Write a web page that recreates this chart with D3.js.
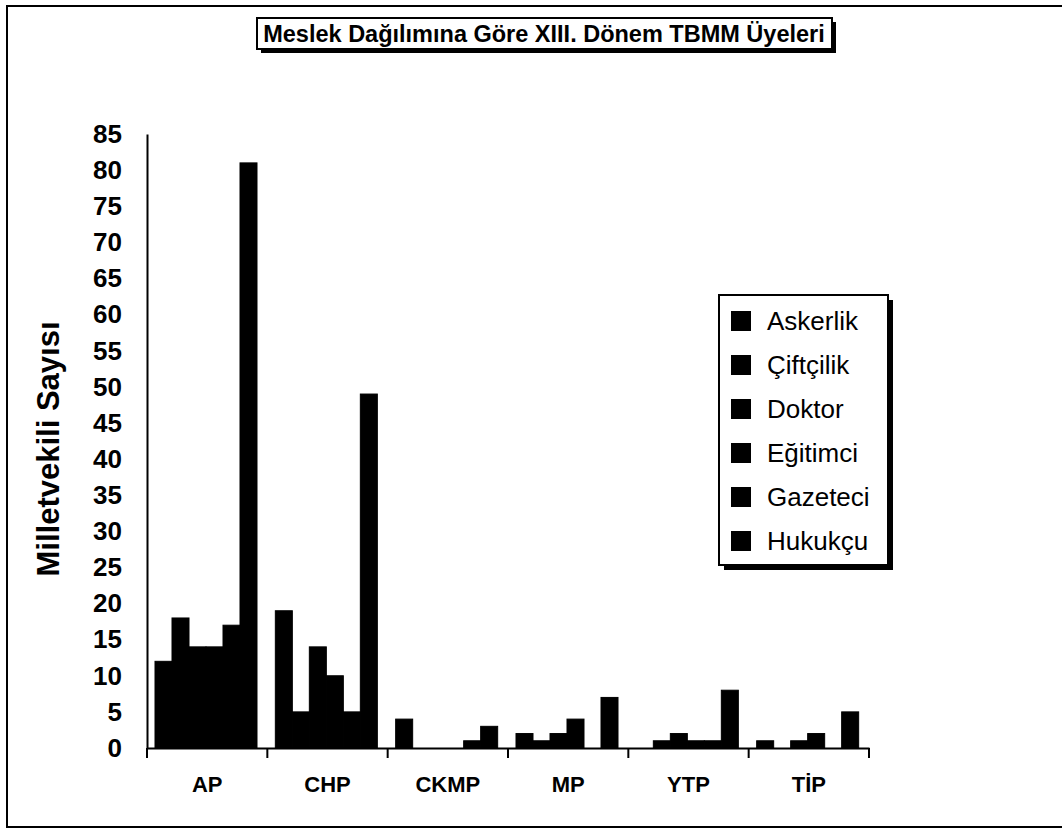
<!DOCTYPE html>
<html>
<head>
<meta charset="utf-8">
<script src="https://cdn.jsdelivr.net/npm/d3@7"></script>
<style>
  body { margin: 0; background: #fff; }
  text { font-family: "Liberation Sans", Arial, sans-serif; }
</style>
</head>
<body>
<div id="chart"></div>
<script>
// chart data
var parties = ["AP", "CHP", "CKMP", "MP", "YTP", "TİP"];
var professions = ["Askerlik", "Çiftçilik", "Doktor", "Eğitimci", "Gazeteci", "Hukukçu"];
var askerlik  = [12, 19, 4, 2, 0, 1];
var ciftcilik = [18, 5, 0, 1, 1, 0];
var doktor    = [14, 14, 0, 2, 2, 1];
var egitimci  = [14, 10, 0, 4, 1, 2];
var gazeteci  = [17, 5, 1, 0, 1, 0];
var hukukcu   = [81, 49, 3, 7, 8, 5];
var yTicks = [0, 5, 10, 15, 20, 25, 30, 35, 40, 45, 50, 55, 60, 65, 70, 75, 80, 85];

var seriesValues = [askerlik, ciftcilik, doktor, egitimci, gazeteci, hukukcu];

var svgWidth = 1062;
var svgHeight = 830;

var svg = d3.select("#chart")
    .append("svg")
    .attr("width", svgWidth)
    .attr("height", svgHeight);

svg.append("rect")
    .attr("width", svgWidth)
    .attr("height", svgHeight)
    .attr("fill", "#fff");

// outer frame
svg.append("rect")
    .attr("x", 7).attr("y", 6)
    .attr("width", 1060).attr("height", 821)
    .attr("fill", "none")
    .attr("stroke", "#000")
    .attr("stroke-width", 2);

// title box with shadow
svg.append("rect")
    .attr("x", 261).attr("y", 22)
    .attr("width", 575).attr("height", 31)
    .attr("fill", "#000");
svg.append("rect")
    .attr("x", 257).attr("y", 18)
    .attr("width", 575).attr("height", 31)
    .attr("fill", "#fff")
    .attr("stroke", "#000")
    .attr("stroke-width", 2);
svg.append("text")
    .attr("x", 544).attr("y", 34)
    .attr("text-anchor", "middle")
    .attr("dominant-baseline", "central")
    .attr("font-size", "23.5px")
    .attr("font-weight", "bold")
    .text("Meslek Dağılımına Göre XIII. Dönem TBMM Üyeleri");

// scales
var x0 = d3.scaleBand()
    .domain(parties)
    .range([147, 869]);

var x1 = d3.scaleBand()
    .domain(professions)
    .range([8, 110]);

var y = d3.scaleLinear()
    .domain([0, 85])
    .range([748, 134]);

// bars
var groups = svg.selectAll(".grp")
    .data(parties)
    .enter()
    .append("g")
    .attr("class", "grp")
    .attr("transform", d => `translate(${x0(d)},0)`);

groups.selectAll("rect")
    .data((p, i) => professions.map((s, j) => ({ s: s, v: seriesValues[j][i] })))
    .enter()
    .append("rect")
    .attr("x", d => x1(d.s))
    .attr("y", d => y(d.v))
    .attr("width", x1.bandwidth())
    .attr("height", d => y(0) - y(d.v))
    .attr("fill", "#000")
    .attr("stroke", "#000")
    .attr("stroke-width", 1);

// y axis
var leftAxis = d3.axisLeft(y).tickValues(yTicks).tickSize(0).tickPadding(25);
var yAxisG = svg.append("g")
    .attr("transform", "translate(147,0)")
    .call(leftAxis);
yAxisG.select(".domain").attr("stroke", "#000").attr("stroke-width", 2);
yAxisG.selectAll("text")
    .attr("font-size", "26px")
    .attr("font-weight", "bold")
    .attr("font-family", "'Liberation Sans', Arial, sans-serif")
    .attr("fill", "#000");

// x axis
var bottomAxis = d3.axisBottom(x0).tickSize(0).tickPadding(28);
var xAxisG = svg.append("g")
    .attr("transform", "translate(0,748)")
    .call(bottomAxis);
xAxisG.select(".domain").attr("stroke", "#000").attr("stroke-width", 2);
xAxisG.selectAll("text")
    .attr("font-size", "22px")
    .attr("font-weight", "bold")
    .attr("font-family", "'Liberation Sans', Arial, sans-serif")
    .attr("fill", "#000");

// category separator ticks
var bounds = parties.map(p => x0(p)).concat([869]);
svg.selectAll(".sep")
    .data(bounds)
    .enter()
    .append("line")
    .attr("x1", d => d).attr("x2", d => d)
    .attr("y1", 748).attr("y2", 758)
    .attr("stroke", "#000")
    .attr("stroke-width", 2);

// y title
svg.append("text")
    .attr("transform", "translate(48,449) rotate(-90)")
    .attr("text-anchor", "middle")
    .attr("dominant-baseline", "central")
    .attr("font-size", "31px")
    .attr("font-weight", "bold")
    .text("Milletvekili Sayısı");

// legend
svg.append("rect")
    .attr("x", 724).attr("y", 300)
    .attr("width", 169).attr("height", 270)
    .attr("fill", "#000");
svg.append("rect")
    .attr("x", 719).attr("y", 295)
    .attr("width", 169).attr("height", 270)
    .attr("fill", "#fff")
    .attr("stroke", "#000")
    .attr("stroke-width", 2);

var legend = svg.selectAll(".leg")
    .data(professions)
    .enter()
    .append("g")
    .attr("class", "leg")
    .attr("transform", (d, i) => `translate(731,${321 + i * 44})`);

legend.append("rect")
    .attr("x", 0).attr("y", -10)
    .attr("width", 20).attr("height", 20)
    .attr("fill", "#000");

legend.append("text")
    .attr("x", 36).attr("y", 0)
    .attr("dominant-baseline", "central")
    .attr("font-size", "26px")
    .text(d => d);
</script>
</body>
</html>
